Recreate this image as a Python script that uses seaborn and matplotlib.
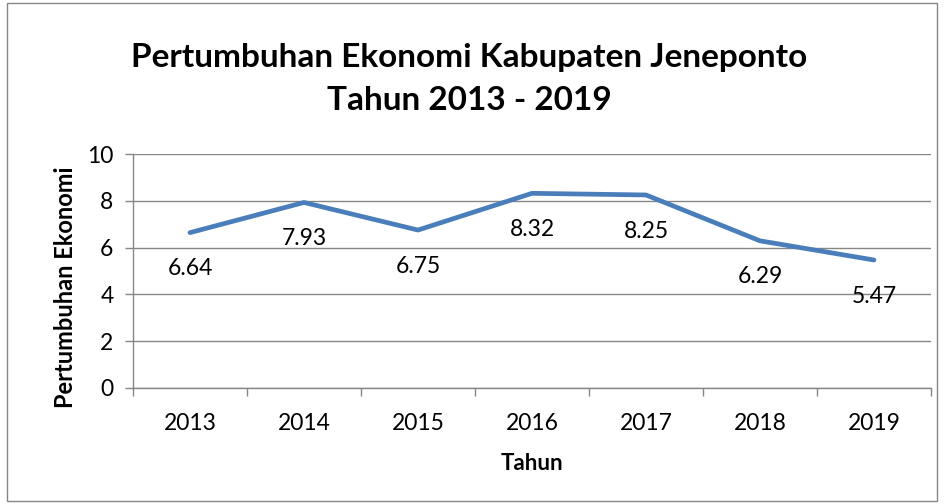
import matplotlib
matplotlib.use("Agg")
import matplotlib.pyplot as plt
import seaborn as sns
import pandas as pd
from matplotlib.patches import Rectangle

years = ["2013", "2014", "2015", "2016", "2017", "2018", "2019"]
growth = [6.64, 7.93, 6.75, 8.32, 8.25, 6.29, 5.47]
y_ticks = [0, 2, 4, 6, 8, 10]

df = pd.DataFrame({"Tahun": years, "Pertumbuhan Ekonomi": growth})

sns.set_theme(style="white")
plt.rcParams['font.family'] = ['Lato', 'DejaVu Sans']

fig = plt.figure(figsize=(9.44, 5.04), dpi=100)
ax = fig.add_axes([0.1409, 0.2302, 0.8453, 0.4642])

sns.lineplot(data=df, x="Tahun", y="Pertumbuhan Ekonomi", ax=ax, color="#4A7EBB",
             linewidth=3.4, sort=False, solid_capstyle="round")

for i, v in enumerate(growth):
    ax.annotate(f"{v:.2f}", (i, v), xytext=(0, -26), textcoords="offset points",
                ha="center", va="center", fontsize=16.5, color="black")

ax.set_xlim(-0.5, len(years) - 0.5)
ax.set_ylim(0, 10)
ax.set_yticks(y_ticks)
ax.set_yticklabels([str(t) for t in y_ticks], fontsize=16.5, color="black")
ax.set_xticks(range(len(years)))
ax.set_xticklabels(years, fontsize=16.5, color="black")
ax.set_xticks([i - 0.5 for i in range(len(years) + 1)], minor=True)
ax.tick_params(axis="x", which="major", length=0, pad=18)
ax.tick_params(axis="x", which="minor", length=6, width=1, color="#868686", direction="out", bottom=True)
ax.tick_params(axis="y", which="major", length=6, width=1, color="#868686", direction="out", left=True, pad=8)
ax.grid(axis="y", color="#868686", linewidth=1)
ax.set_axisbelow(True)
for s in ["top", "right"]:
    ax.spines[s].set_visible(False)
for s in ["left", "bottom"]:
    ax.spines[s].set_color("#868686")
    ax.spines[s].set_linewidth(1)

ax.set_xlabel("Tahun", fontsize=16, fontweight="bold", labelpad=14, color="black")
ax.set_ylabel("Pertumbuhan Ekonomi", fontsize=17, fontweight="bold", labelpad=10, color="black")
ax.yaxis.set_label_coords(-0.07, 0.43)

fig.text(0.497, 0.885, "Pertumbuhan Ekonomi Kabupaten Jeneponto", ha="center", va="center",
         fontsize=24, fontweight="bold", color="black")
fig.text(0.497, 0.80, "Tahun 2013 - 2019", ha="center", va="center",
         fontsize=24, fontweight="bold", color="black")

fig.patches.append(Rectangle((0.007, 0.005), 0.986, 0.99, transform=fig.transFigure,
                             fill=False, edgecolor="#868686", linewidth=1))

fig.savefig("out.png", dpi=100)
